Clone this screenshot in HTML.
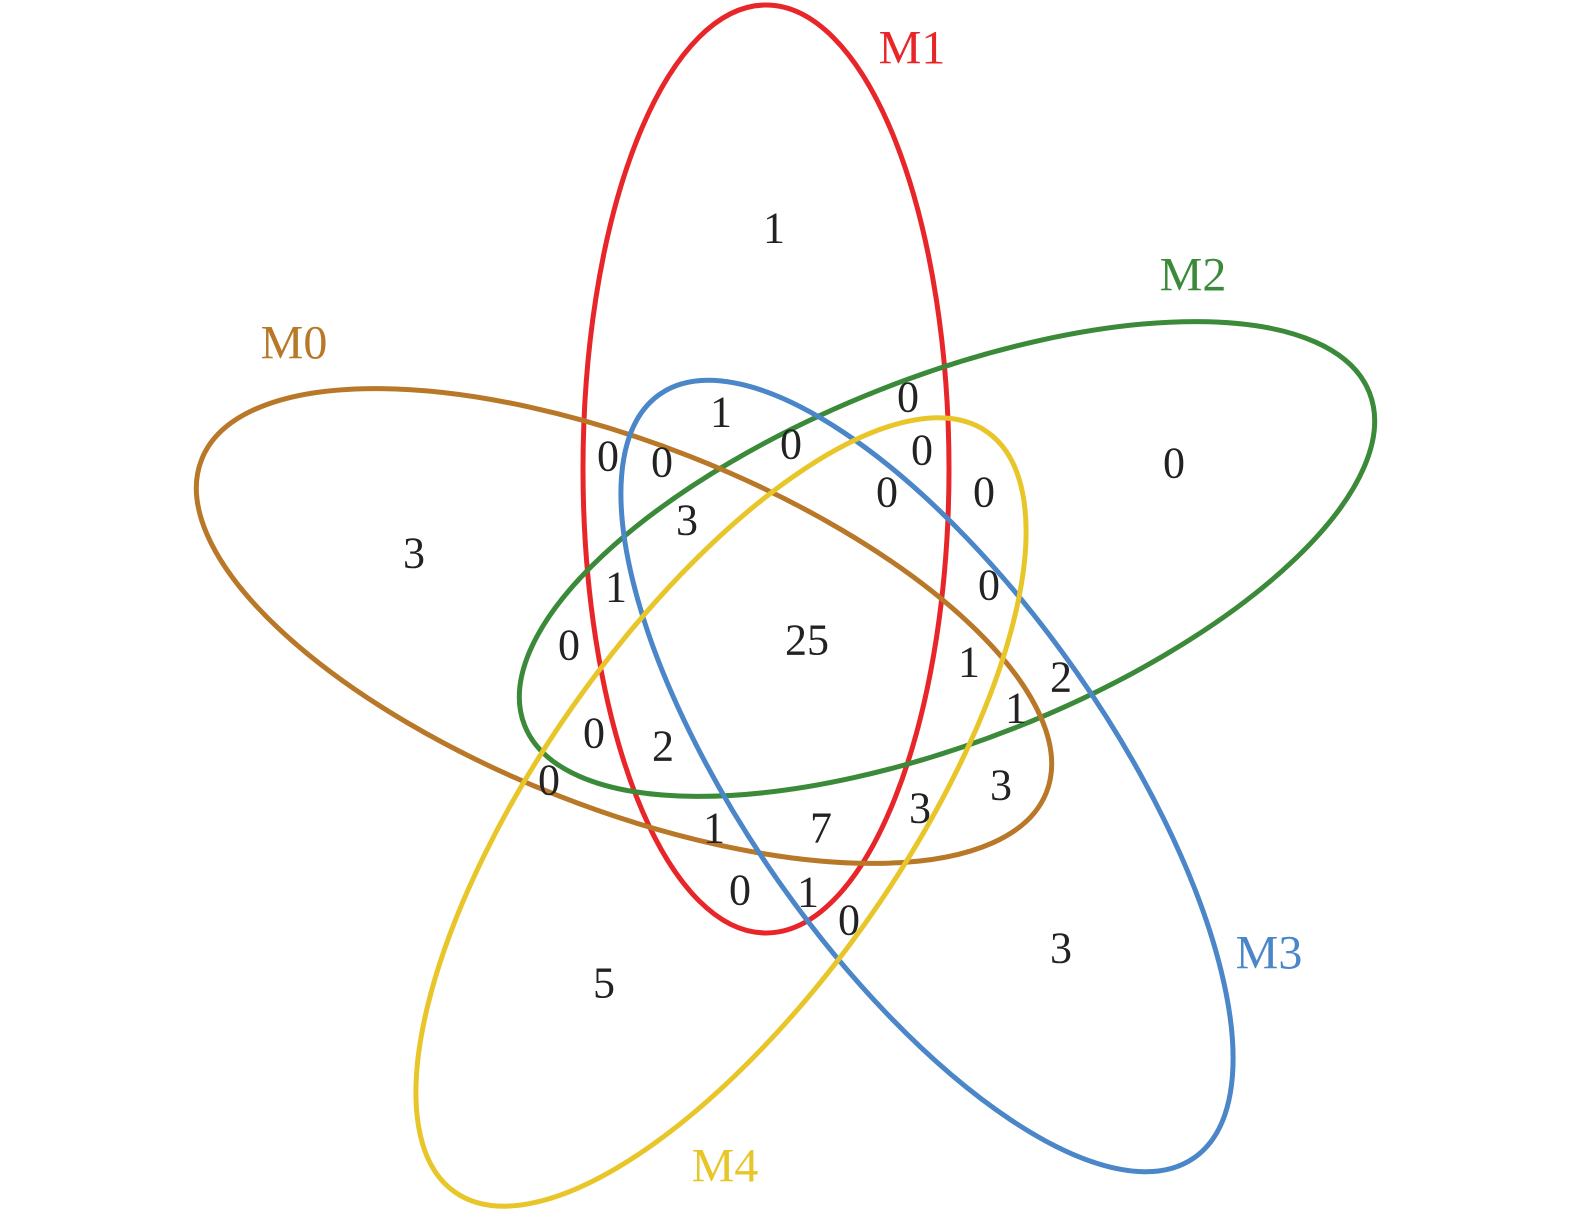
<!DOCTYPE html>
<html><head><meta charset="utf-8"><style>
html,body{margin:0;padding:0;background:#fff;overflow:hidden;width:1575px;height:1217px;}
svg{display:block;}
text{font-family:"Liberation Serif",serif;}
</style></head><body>
<svg width="1575" height="1217" viewBox="0 0 1575 1217" xmlns="http://www.w3.org/2000/svg">
<g fill="none" stroke-width="5">
<ellipse cx="766" cy="469" rx="183" ry="464" stroke="#e8262a"/>
<ellipse cx="947" cy="559" rx="182" ry="454" stroke="#3a8a3a" transform="rotate(68.5 947 559)"/>
<ellipse cx="624" cy="626" rx="182" ry="454" stroke="#b87828" transform="rotate(-68.5 624 626)"/>
<ellipse cx="927" cy="776" rx="182" ry="466" stroke="#4a86c8" transform="rotate(-35 927 776)"/>
<ellipse cx="721" cy="812" rx="182" ry="464" stroke="#e8c62a" transform="rotate(35 721 812)"/>
</g>
<g font-size="48" text-anchor="middle" dominant-baseline="central">
<text x="912" y="48" fill="#e8262a">M1</text>
<text x="1193" y="275" fill="#3a8a3a">M2</text>
<text x="294" y="343" fill="#b87828">M0</text>
<text x="1269" y="953" fill="#4a86c8">M3</text>
<text x="725" y="1166" fill="#e8c62a">M4</text>
</g>
<g font-size="44" text-anchor="middle" dominant-baseline="central" fill="#222">
<text x="774" y="228">1</text><text x="1174" y="463">0</text><text x="414" y="553">3</text>
<text x="807" y="640">25</text><text x="604" y="983">5</text><text x="1061" y="948">3</text>
<text x="908" y="397">0</text><text x="721" y="412">1</text><text x="791" y="444">0</text>
<text x="922" y="450">0</text><text x="608" y="456">0</text><text x="662" y="462">0</text>
<text x="887" y="492">0</text><text x="984" y="492">0</text><text x="687" y="520">3</text>
<text x="616" y="587">1</text><text x="989" y="585">0</text><text x="569" y="645">0</text>
<text x="969" y="662">1</text><text x="1061" y="677">2</text><text x="1016" y="708">1</text>
<text x="594" y="733">0</text><text x="663" y="746">2</text><text x="549" y="780">0</text>
<text x="1001" y="785">3</text><text x="920" y="808">3</text><text x="714" y="828">1</text>
<text x="821" y="828">7</text><text x="740" y="890">0</text><text x="808" y="892">1</text>
<text x="849" y="920">0</text>
</g>
</svg>
</body></html>
